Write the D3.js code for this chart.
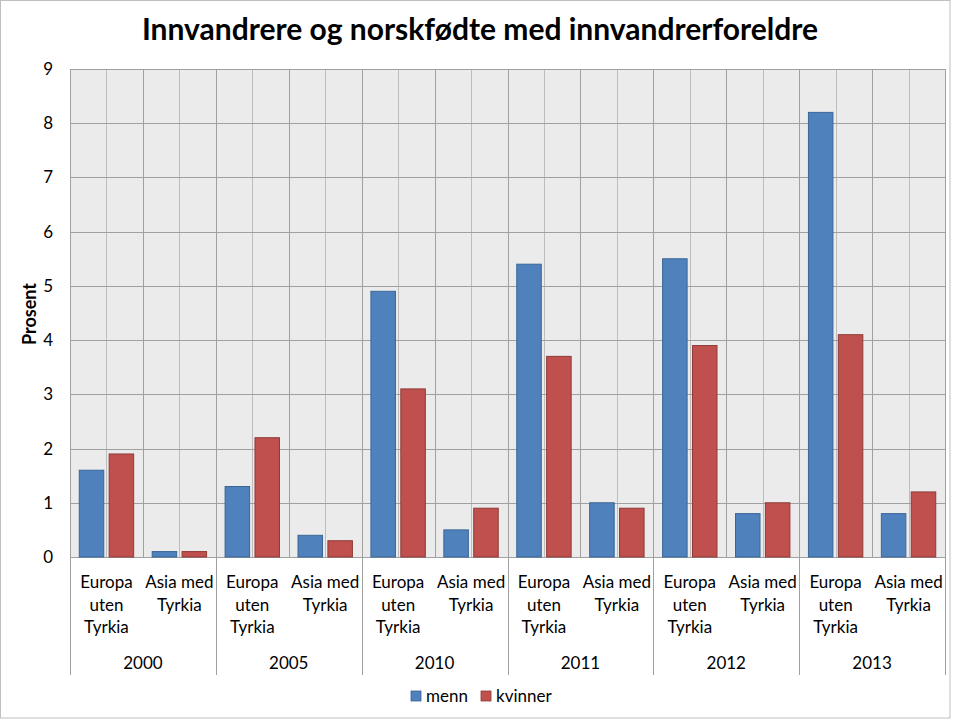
<!DOCTYPE html>
<html>
<head>
<meta charset="utf-8">
<script src="https://cdn.jsdelivr.net/npm/d3@7"></script>
<style>
  html, body { margin: 0; padding: 0; background: #fff; }
  svg { display: block; }
  text { font-family: Lato, "Open Sans", sans-serif; fill: #000; }
</style>
</head>
<body>
<svg id="chart" width="960" height="720"></svg>
<script>
// ---- data ----
const title = "Innvandrere og norskfødte med innvandrerforeldre";
const yAxisTitle = "Prosent";
const years = ["2000", "2005", "2010", "2011", "2012", "2013"];
const groups = [["Europa", "uten", "Tyrkia"], ["Asia med", "Tyrkia"]];
const seriesNames = ["menn", "kvinner"];
const seriesColors = ["#4F81BD", "#C0504D"];
const seriesStroke = ["#3A6596", "#8E3A38"];
// values in order: for each year, [Europa uten Tyrkia, Asia med Tyrkia]
const menn    = [1.6, 0.1, 1.3, 0.4, 4.9, 0.5, 5.4, 1.0, 5.5, 0.8, 8.2, 0.8];
const kvinner = [1.9, 0.1, 2.2, 0.3, 3.1, 0.9, 3.7, 0.9, 3.9, 1.0, 4.1, 1.2];
const yTicks = [0, 1, 2, 3, 4, 5, 6, 7, 8, 9];

// ---- layout ----
const svg = d3.select("#chart");
const L = 70, R = 945, T = 69, B = 557;
const FS = "17px";

const cats = d3.range(years.length * groups.length);
const x = d3.scaleBand().domain(cats).range([L, R]).padding(0);
const xLin = d3.scaleLinear().domain([0, cats.length]).range([L, R]);
const xInner = d3.scaleBand().domain(seriesNames).range([0, x.bandwidth()])
  .paddingInner(0.18).paddingOuter(0.31);
const y = d3.scaleLinear().domain([0, 9]).range([B, T]);

// outer border
svg.append("rect").attr("x", 0.5).attr("y", 0.5).attr("width", 949.5).attr("height", 717.5)
  .attr("fill", "#fff").attr("stroke", "#BFBFBF").attr("stroke-width", 1);

// plot background
svg.append("rect").attr("x", L).attr("y", T).attr("width", R - L).attr("height", B - T)
  .attr("fill", "#EBEBEB");

// vertical gridlines (half-category)
const vg = d3.range(0, cats.length + 0.01, 0.5);
svg.append("g").selectAll("line").data(vg).join("line")
  .attr("x1", d => Math.round(xLin(d)) + 0.5).attr("x2", d => Math.round(xLin(d)) + 0.5)
  .attr("y1", T).attr("y2", B)
  .attr("stroke", d => Number.isInteger(d) ? "#A0A0A0" : "#BDBDBD").attr("stroke-width", 1);

// horizontal gridlines
svg.append("g").selectAll("line").data(yTicks).join("line")
  .attr("x1", L).attr("x2", R)
  .attr("y1", d => Math.round(y(d)) + 0.5).attr("y2", d => Math.round(y(d)) + 0.5)
  .attr("stroke", "#A0A0A0").attr("stroke-width", 1);

// y axis labels
const yAxis = d3.axisLeft(y).tickValues(yTicks).tickSize(0).tickPadding(17).tickFormat(d3.format("d"));
const gy = svg.append("g").attr("transform", `translate(${L},0)`).call(yAxis);
gy.select(".domain").remove();
gy.selectAll("text").style("font-family", "Lato, sans-serif").style("font-size", FS).attr("fill", "#000");

// y axis title
svg.append("text").attr("transform", `translate(36,${(y(4) + y(5)) / 2 + 1}) rotate(-90)`)
  .attr("text-anchor", "middle").style("font-size", "18px").style("font-weight", "bold")
  .text(yAxisTitle);

// bars
const seriesData = [menn, kvinner];
seriesNames.forEach((s, si) => {
  svg.append("g").selectAll("rect").data(seriesData[si]).join("rect")
    .attr("x", (d, i) => x(i) + xInner(s))
    .attr("width", xInner.bandwidth())
    .attr("y", d => y(d))
    .attr("height", d => y(0) - y(d))
    .attr("fill", seriesColors[si])
    .attr("stroke", seriesStroke[si]).attr("stroke-width", 1);
});

// category axis separators (year boundaries)
const yb = d3.range(0, cats.length + 0.01, groups.length);
svg.append("g").selectAll("line").data(yb).join("line")
  .attr("x1", d => Math.round(xLin(d)) + 0.5).attr("x2", d => Math.round(xLin(d)) + 0.5)
  .attr("y1", B).attr("y2", 675)
  .attr("stroke", "#A0A0A0").attr("stroke-width", 1);

// category labels
const catG = svg.append("g");
cats.forEach(i => {
  const lines = groups[i % groups.length];
  const t = catG.append("text").attr("text-anchor", "middle").style("font-size", FS)
    .attr("x", x(i) + x.bandwidth() / 2).attr("y", 588);
  lines.forEach((ln, k) => {
    t.append("tspan").attr("x", x(i) + x.bandwidth() / 2).attr("dy", k === 0 ? 0 : 22.5).text(ln);
  });
});

// year labels
svg.append("g").selectAll("text").data(years).join("text")
  .attr("x", (d, i) => xLin(i * groups.length + groups.length / 2))
  .attr("y", 669).attr("text-anchor", "middle").style("font-size", FS)
  .text(d => d);

// title
svg.append("text").attr("x", 480).attr("y", 40).attr("text-anchor", "middle")
  .style("font-size", "30px").style("font-weight", "bold").text(title);

// legend
const lg = svg.append("g");
const legX = [411, 481];
seriesNames.forEach((s, si) => {
  lg.append("rect").attr("x", legX[si]).attr("y", 691).attr("width", 10).attr("height", 10)
    .attr("fill", seriesColors[si]).attr("stroke", seriesStroke[si]).attr("stroke-width", 0.8);
  lg.append("text").attr("x", legX[si] + 15).attr("y", 702).style("font-size", FS).text(s);
});
</script>
</body>
</html>
